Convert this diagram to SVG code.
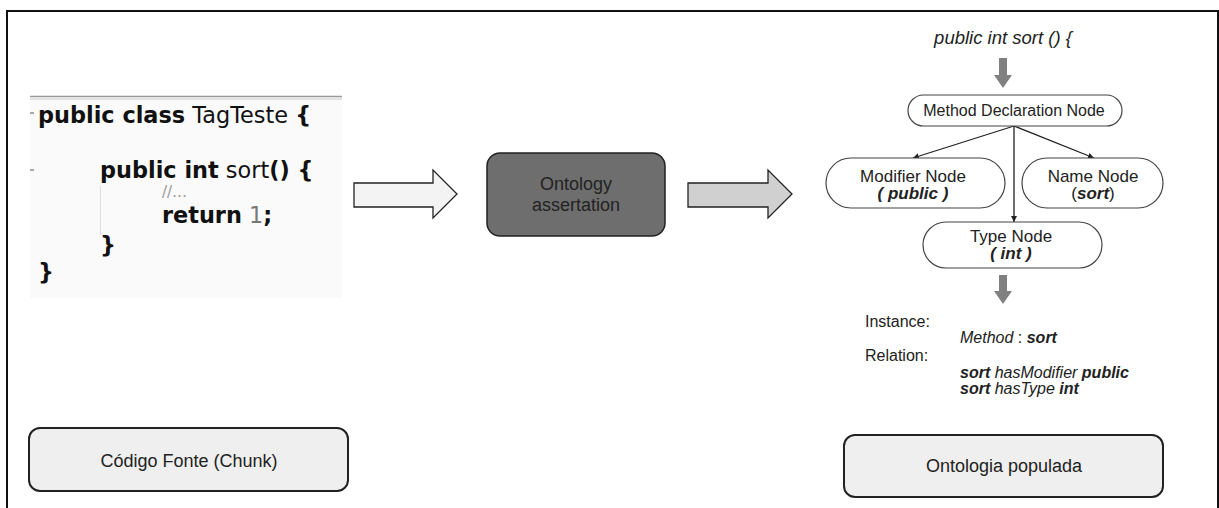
<svg xmlns="http://www.w3.org/2000/svg" width="1219" height="508" viewBox="0 0 1219 508">
  <style>
    .sans { font-family: "Liberation Sans", Arial, sans-serif; fill: #222; }
    .code { font-family: "DejaVu Sans", Verdana, sans-serif; font-size: 22.4px; fill: #111; }
    .comment { font-family: "DejaVu Sans", Verdana, sans-serif; font-size: 15px; fill: #999; }
    .b { font-weight: bold; }
    .i { font-style: italic; }
    .pill { fill: #ffffff; stroke: #444; stroke-width: 1.2; }
    .node-text { font-size: 17px; }
    .edge { stroke: #222; stroke-width: 1.3; fill: none; marker-end: url(#tip); }
    .down { fill: #808080; }
    .label-box { fill: #efefef; stroke: #222; stroke-width: 2; }
  </style>
  <defs>
    <marker id="tip" viewBox="0 0 10 10" refX="10" refY="5" markerWidth="6" markerHeight="6" orient="auto" markerUnits="userSpaceOnUse">
      <path d="M0,0 L10,5 L0,10 z" fill="#222"/>
    </marker>
  </defs>

  <rect width="1219" height="508" fill="#ffffff"/>
  <!-- outer frame -->
  <rect x="7" y="11" width="1211" height="510" fill="none" stroke="#111" stroke-width="2"/>

  <!-- source code chunk -->
  <g id="source-code">
    <rect x="30" y="98" width="312" height="200" fill="#fafafa"/>
    <line x1="30" y1="96.5" x2="342" y2="96.5" stroke="#999" stroke-width="1.5"/>
    <line x1="30" y1="99" x2="342" y2="99" stroke="#ccc" stroke-width="1"/>
    <line x1="30" y1="113" x2="34" y2="113" stroke="#555" stroke-width="1"/>
    <line x1="30" y1="170" x2="34" y2="170" stroke="#555" stroke-width="1"/>
    <line x1="100.5" y1="186" x2="100.5" y2="235" stroke="#ddd" stroke-width="1"/>
    <text class="code" x="38" y="123"><tspan class="b">public class</tspan> TagTeste <tspan class="b">{</tspan></text>
    <text class="code" x="100" y="178"><tspan class="b">public int</tspan> sort<tspan class="b">() {</tspan></text>
    <text class="comment" x="162" y="197">//…</text>
    <text class="code" x="162" y="223"><tspan class="b">return</tspan> <tspan style="fill:#777">1</tspan><tspan class="b">;</tspan></text>
    <text class="code b" x="100" y="253">}</text>
    <text class="code b" x="38" y="280">}</text>
  </g>

  <!-- flow between stages -->
  <g id="connectors">
    <path d="M354,183 H433 V170 L457,194 L433,218 V207 H354 Z" fill="#f3f3f3" stroke="#222" stroke-width="1.3"/>
    <path d="M688,183 H768 V170 L792,194 L768,218 V207 H688 Z" fill="#d0d0d0" stroke="#222" stroke-width="1.3"/>
    <path class="down" d="M999,58 H1007 V75 H1012 L1003,88 L994,75 H999 Z"/>
    <path class="down" d="M999,275 H1007 V291 H1012 L1003,304 L994,291 H999 Z"/>
    <line class="edge" x1="1014" y1="126" x2="913" y2="158"/>
    <line class="edge" x1="1014" y1="126" x2="1094" y2="158"/>
    <line class="edge" x1="1014" y1="126" x2="1014" y2="222"/>
  </g>

  <g id="ontology-assertation">
    <rect x="487" y="153" width="178" height="83" rx="13" fill="#6e6e6e" stroke="#222" stroke-width="1.5"/>
    <text class="sans" x="576" y="190" font-size="18" text-anchor="middle">Ontology</text>
    <text class="sans" x="576" y="211" font-size="18" text-anchor="middle">assertation</text>
  </g>

  <g id="method-signature">
    <text class="sans i" x="1003" y="44" font-size="18.5" text-anchor="middle">public int sort () {</text>
  </g>

  <g id="method-declaration-node">
    <rect class="pill" x="908" y="95" width="214" height="31" rx="15.5"/>
    <text class="sans" x="1014" y="116" font-size="16" text-anchor="middle">Method Declaration Node</text>
  </g>

  <g id="modifier-node">
    <rect class="pill" x="826" y="158" width="179" height="50" rx="25"/>
    <text class="sans node-text" x="913" y="182" text-anchor="middle">Modifier Node</text>
    <text class="sans node-text b i" x="913" y="199" text-anchor="middle">( public )</text>
  </g>

  <g id="name-node">
    <rect class="pill" x="1022" y="158" width="141" height="50" rx="25"/>
    <text class="sans node-text" x="1093" y="182" text-anchor="middle">Name Node</text>
    <text class="sans node-text" x="1093" y="199" text-anchor="middle">(<tspan class="b i">sort</tspan>)</text>
  </g>

  <g id="type-node">
    <rect class="pill" x="923" y="222" width="179" height="46" rx="23"/>
    <text class="sans node-text" x="1011" y="242" text-anchor="middle">Type Node</text>
    <text class="sans node-text b i" x="1011" y="259" text-anchor="middle">( int )</text>
  </g>

  <g id="assertions">
    <text class="sans" x="865" y="327" font-size="16">Instance:</text>
    <text class="sans" x="960" y="343" font-size="16"><tspan class="i">Method</tspan> : <tspan class="b i">sort</tspan></text>
    <text class="sans" x="865" y="361" font-size="16">Relation:</text>
    <text class="sans" x="960" y="378" font-size="16"><tspan class="b i">sort</tspan> <tspan class="i">hasModifier</tspan> <tspan class="b i">public</tspan></text>
    <text class="sans" x="960" y="394" font-size="16"><tspan class="b i">sort</tspan> <tspan class="i">hasType</tspan> <tspan class="b i">int</tspan></text>
  </g>

  <g id="codigo-fonte">
    <rect class="label-box" x="29" y="428" width="319" height="63" rx="11"/>
    <text class="sans" x="189" y="467" font-size="18" text-anchor="middle">Código Fonte (Chunk)</text>
  </g>

  <g id="ontologia-populada">
    <rect class="label-box" x="844" y="435" width="319" height="62" rx="11"/>
    <text class="sans" x="1004" y="472" font-size="18" text-anchor="middle">Ontologia populada</text>
  </g>
</svg>
